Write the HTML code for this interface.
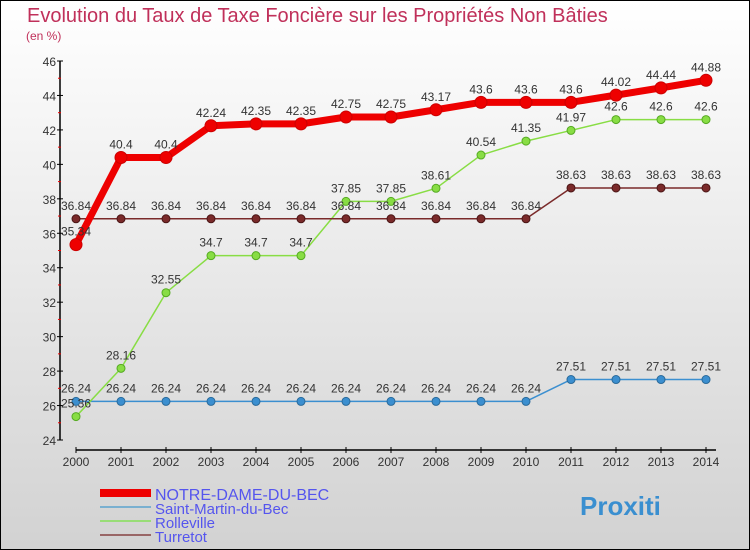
<!DOCTYPE html>
<html><head><meta charset="utf-8"><style>
body{margin:0;width:750px;height:550px;overflow:hidden;font-family:"Liberation Sans",sans-serif}
#wrap{position:absolute;left:0;top:0;width:748px;height:548px;border:1px solid #000;background:linear-gradient(#ffffff,#d2d2d2)}
</style></head><body>
<div id="wrap">
<svg id="chart" width="750" height="550" style="position:absolute;left:-1px;top:-1px"></svg>
</div>
<script>
const years=["2000","2001","2002","2003","2004","2005","2006","2007","2008","2009","2010","2011","2012","2013","2014"];
const notreDame=[35.34,40.4,40.4,42.24,42.35,42.35,42.75,42.75,43.17,43.6,43.6,43.6,44.02,44.44,44.88];
const saintMartin=[26.24,26.24,26.24,26.24,26.24,26.24,26.24,26.24,26.24,26.24,26.24,27.51,27.51,27.51,27.51];
const rolleville=[25.36,28.16,32.55,34.7,34.7,34.7,37.85,37.85,38.61,40.54,41.35,41.97,42.6,42.6,42.6];
const turretot=[36.84,36.84,36.84,36.84,36.84,36.84,36.84,36.84,36.84,36.84,36.84,38.63,38.63,38.63,38.63];
const yTicks=[24,26,28,30,32,34,36,38,40,42,44,46];
const NS="http://www.w3.org/2000/svg";
const svg=document.getElementById('chart');
const X=i=>76+i*45, Y=v=>440-(v-24)*(379/22);
function mk(t,a,txt){const e=document.createElementNS(NS,t);for(const k in a)e.setAttribute(k,a[k]);if(txt!==undefined)e.textContent=txt;svg.appendChild(e);return e;}
function fmt(v){return String(v);}
let e;
e=mk('text',{x:27,y:22,'font-size':20,fill:'#c0305a'},'Evolution du Taux de Taxe Foncière sur les Propriétés Non Bâties');

e=mk('text',{x:26,y:40,'font-size':12,fill:'#c0305a'},'(en %)');

e=mk('line',{x1:60,y1:Y(46),x2:60,y2:Y(24),stroke:'#000','stroke-width':1.5});

yTicks.forEach(v=>{mk('line',{x1:57,x2:63,y1:Y(v),y2:Y(v),stroke:'#000'});
 if(v<46){mk('line',{x1:58,x2:61,y1:Y(v+1),y2:Y(v+1),stroke:'#e00'});}
 e=mk('text',{x:56,y:Y(v)+5,'font-size':12,fill:'#333','text-anchor':'end'},v);
 });
e=mk('line',{x1:X(0),y1:450,x2:X(14)+10,y2:450,stroke:'#000','stroke-width':1.5});

years.forEach((y,i)=>{mk('line',{x1:X(i),x2:X(i),y1:447,y2:453,stroke:'#000'});
 e=mk('text',{x:X(i),y:466,'font-size':12,fill:'#333','text-anchor':'middle'},y);
 });
function series(vals,color,w,r,name,dark){
 e=mk('polyline',{points:vals.map((v,i)=>X(i)+','+Y(v)).join(' '),fill:'none',stroke:color,'stroke-width':w,'stroke-linejoin':'round'});
 
 vals.forEach((v,i)=>{e=mk('circle',{cx:X(i),cy:Y(v),r:r,fill:color,stroke:dark,'stroke-width':1});
  
  e=mk('text',{x:X(i),y:Y(v)-9,'font-size':12,fill:'#333','text-anchor':'middle'},fmt(v));
  });
}
series(saintMartin,'#3b8fd0',1.5,4,'saint-martin','#2a6a9a');
series(rolleville,'#88dd44',1.5,4,'rolleville','#55aa22');
series(turretot,'#7a2a2a',1.5,4,'turretot','#4a1515');
series(notreDame,'#ee0000',7,6,'notre-dame','#cc0000');
const leg=[['NOTRE-DAME-DU-BEC','#ee0000',8],['Saint-Martin-du-Bec','#7ab0d0',2],['Rolleville','#99dd77',2],['Turretot','#996666',2]];
leg.forEach((l,i)=>{const y=493+i*14;
 e=mk('line',{x1:100,x2:151,y1:y,y2:y,stroke:l[1],'stroke-width':l[2]});
 
 e=mk('text',{x:155,y:y+7,'font-size':i==0?16:15,fill:'#5555ee'},l[0]);
 });
e=mk('text',{x:580,y:515,'font-size':26,'font-weight':'bold',fill:'#3a8fd0'},'Proxiti');

</script>
</body></html>
